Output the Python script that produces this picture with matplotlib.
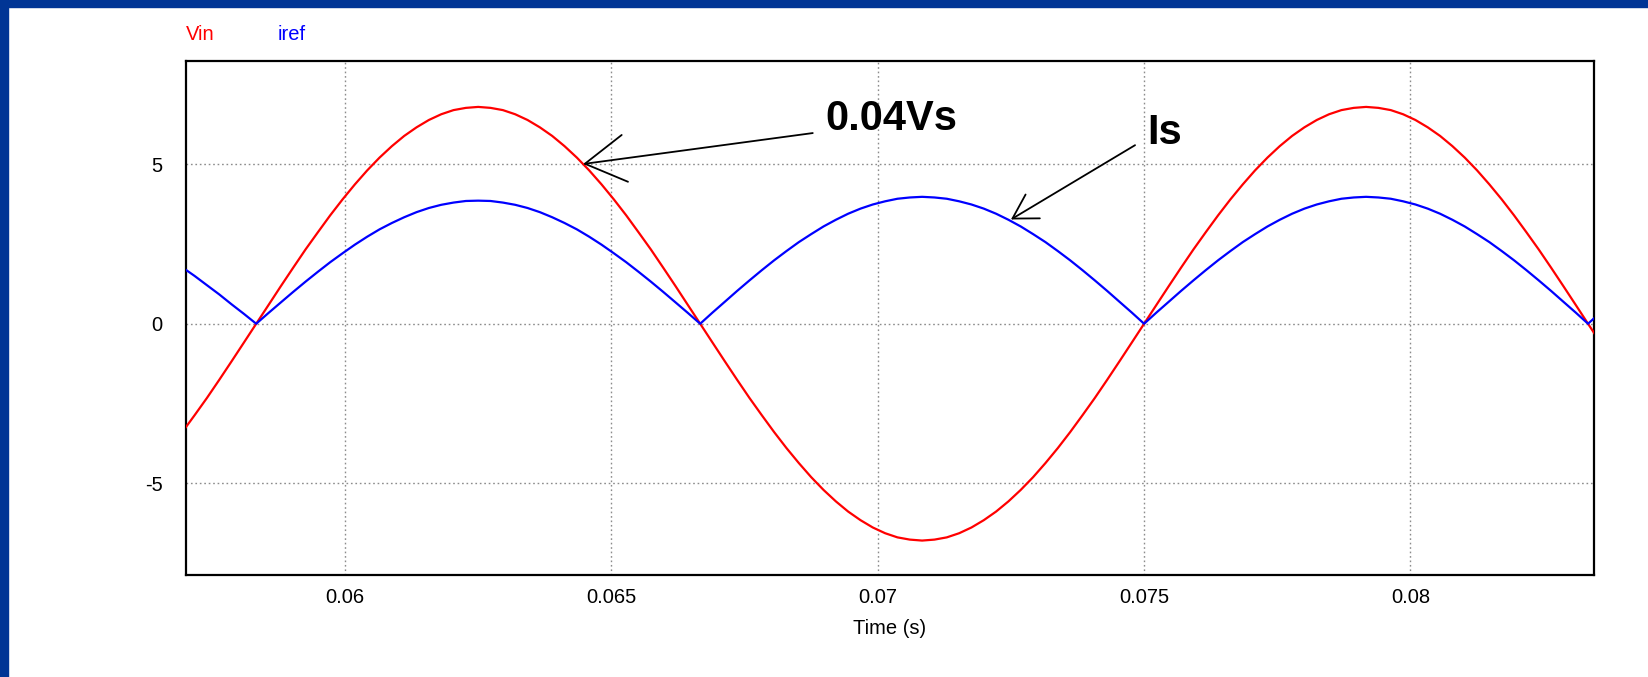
"""Vin / iref scope trace (0.04Vs and Is), redrawn with matplotlib."""

import numpy as np
import matplotlib
matplotlib.use("Agg")
import matplotlib.pyplot as plt
from matplotlib.patches import Rectangle

plt.rcParams["font.family"] = ["Liberation Sans", "DejaVu Sans"]
plt.rcParams["axes.unicode_minus"] = False

# time samples (ms), 5 deg steps of the 60 Hz line
time_ms = [56.944, 57.176, 57.407, 57.639, 57.870, 58.102,
           58.333, 58.565, 58.796, 59.028, 59.259, 59.491, 59.722, 59.954, 60.185, 60.417,
           60.648, 60.880, 61.111, 61.343, 61.574, 61.806, 62.037, 62.269, 62.500, 62.731,
           62.963, 63.194, 63.426, 63.657, 63.889, 64.120, 64.352, 64.583, 64.815, 65.046,
           65.278, 65.509, 65.741, 65.972, 66.204, 66.435, 66.667,
           66.898, 67.130, 67.361, 67.593, 67.824, 68.056, 68.287, 68.519, 68.750, 68.981,
           69.213, 69.444, 69.676, 69.907, 70.139, 70.370, 70.602, 70.833, 71.065, 71.296,
           71.528, 71.759, 71.991, 72.222, 72.454, 72.685, 72.917, 73.148, 73.380, 73.611,
           73.843, 74.074, 74.306, 74.537, 74.769, 75.000,
           75.231, 75.463, 75.694, 75.926, 76.157, 76.389, 76.620, 76.852, 77.083, 77.315,
           77.546, 77.778, 78.009, 78.241, 78.472, 78.704, 78.935, 79.167, 79.398, 79.630,
           79.861, 80.093, 80.324, 80.556, 80.787, 81.019, 81.250, 81.481, 81.713, 81.944,
           82.176, 82.407, 82.639, 82.870, 83.102, 83.333,
           83.565, 83.796]

vin = [-3.40, -2.87, -2.33, -1.76, -1.18, -0.59,
       0.00, 0.59, 1.18, 1.76, 2.33, 2.87, 3.40, 3.90, 4.37, 4.81, 5.21, 5.57, 5.89,
       6.16, 6.39, 6.57, 6.70, 6.77, 6.80, 6.77, 6.70, 6.57, 6.39, 6.16, 5.89, 5.57,
       5.21, 4.81, 4.37, 3.90, 3.40, 2.87, 2.33, 1.76, 1.18, 0.59, 0.00,
       -0.59, -1.18, -1.76, -2.33, -2.87, -3.40, -3.90, -4.37, -4.81, -5.21, -5.57, -5.89,
       -6.16, -6.39, -6.57, -6.70, -6.77, -6.80, -6.77, -6.70, -6.57, -6.39, -6.16, -5.89,
       -5.57, -5.21, -4.81, -4.37, -3.90, -3.40, -2.87, -2.33, -1.76, -1.18, -0.59, 0.00,
       0.59, 1.18, 1.76, 2.33, 2.87, 3.40, 3.90, 4.37, 4.81, 5.21, 5.57, 5.89,
       6.16, 6.39, 6.57, 6.70, 6.77, 6.80, 6.77, 6.70, 6.57, 6.39, 6.16, 5.89,
       5.57, 5.21, 4.81, 4.37, 3.90, 3.40, 2.87, 2.33, 1.76, 1.18, 0.59, 0.00,
       -0.59, -1.18]

iref = [1.77, 1.50, 1.21, 0.92, 0.61, 0.31,
        0.00, 0.34, 0.67, 1.00, 1.32, 1.63, 1.93, 2.21, 2.48, 2.73, 2.96, 3.16, 3.34,
        3.50, 3.63, 3.73, 3.80, 3.85, 3.86, 3.85, 3.80, 3.73, 3.63, 3.50, 3.34, 3.16,
        2.96, 2.73, 2.48, 2.21, 1.93, 1.63, 1.32, 1.00, 0.67, 0.34, 0.00,
        0.35, 0.69, 1.03, 1.36, 1.68, 1.99, 2.28, 2.56, 2.81, 3.05, 3.26, 3.45,
        3.61, 3.74, 3.84, 3.92, 3.96, 3.98, 3.96, 3.92, 3.84, 3.74, 3.61, 3.45,
        3.26, 3.05, 2.81, 2.56, 2.28, 1.99, 1.68, 1.36, 1.03, 0.69, 0.35, 0.00,
        0.35, 0.69, 1.03, 1.36, 1.68, 1.99, 2.28, 2.56, 2.81, 3.05, 3.26, 3.45,
        3.61, 3.74, 3.84, 3.92, 3.96, 3.98, 3.96, 3.92, 3.84, 3.74, 3.61, 3.45,
        3.26, 3.05, 2.81, 2.56, 2.28, 1.99, 1.68, 1.36, 1.03, 0.69, 0.35, 0.00,
        0.35, 0.69]

xticks = [0.06, 0.065, 0.07, 0.075, 0.08]
xtick_labels = ["0.06", "0.065", "0.07", "0.075", "0.08"]
yticks = [-5, 0, 5]
ytick_labels = ["-5", "0", "5"]

# annotation anchors (tip on curve, tail start, label centre), data coords
vs_tip, vs_tail, vs_text = (0.06447, 5.01), (0.06878, 5.98), (0.07026, 6.42)
is_tip, is_tail, is_text = (0.07250, 3.27), (0.07483, 5.60), (0.07539, 5.98)

FS = 14.5
t = np.array(time_ms) / 1000.0

fig = plt.figure(figsize=(16.48, 6.77), dpi=100)
fig.patches.append(Rectangle((0, 1 - 7 / 677), 1, 7 / 677, transform=fig.transFigure,
                             color="#003595", zorder=0))
fig.patches.append(Rectangle((0, 0), 8 / 1648, 1, transform=fig.transFigure,
                             color="#003595", zorder=0))

ax = fig.add_axes([186 / 1648, 102 / 677, 1408 / 1648, 514 / 677])
ax.plot(t, vin, color="#ff0000", lw=1.6, zorder=3)
ax.plot(t, iref, color="#0000ff", lw=1.6, zorder=4)

ax.set_xlim(0.057015, 0.083445)
ax.set_ylim(-7.88, 8.24)
ax.set_xticks(xticks)
ax.set_xticklabels(xtick_labels)
ax.set_yticks(yticks)
ax.set_yticklabels(ytick_labels)
ax.tick_params(length=0, labelsize=FS)
ax.tick_params(axis="x", pad=9.5)
ax.tick_params(axis="y", pad=17)
ax.grid(True, color="#8c8c8c", lw=1.0, ls=(0, (1.2, 2.0)))
for s in ax.spines.values():
    s.set_linewidth(1.6)
    s.set_color("black")
ax.set_xlabel("Time (s)", fontsize=FS, labelpad=8.5)

fig.text(186 / 1648, 1 - 34 / 677, "Vin", color="#ff0000", fontsize=FS, va="center")
fig.text(278 / 1648, 1 - 34 / 677, "iref", color="#0000ff", fontsize=FS, va="center")

big_head = dict(arrowstyle="->,head_length=2.9,head_width=1.7", color="black", lw=1.3,
                shrinkA=0, shrinkB=0, mutation_scale=10)
small_head = dict(big_head, arrowstyle="->,head_length=1.7,head_width=1.0")
ax.annotate("", xy=vs_tip, xytext=vs_tail, arrowprops=big_head, zorder=5)
ax.annotate("", xy=is_tip, xytext=is_tail, arrowprops=small_head, zorder=5)
ax.text(*vs_text, "0.04Vs", fontsize=30, fontweight="bold", ha="center", va="center")
ax.text(*is_text, "Is", fontsize=30, fontweight="bold", ha="center", va="center")

fig.savefig("out.png", dpi=100)
